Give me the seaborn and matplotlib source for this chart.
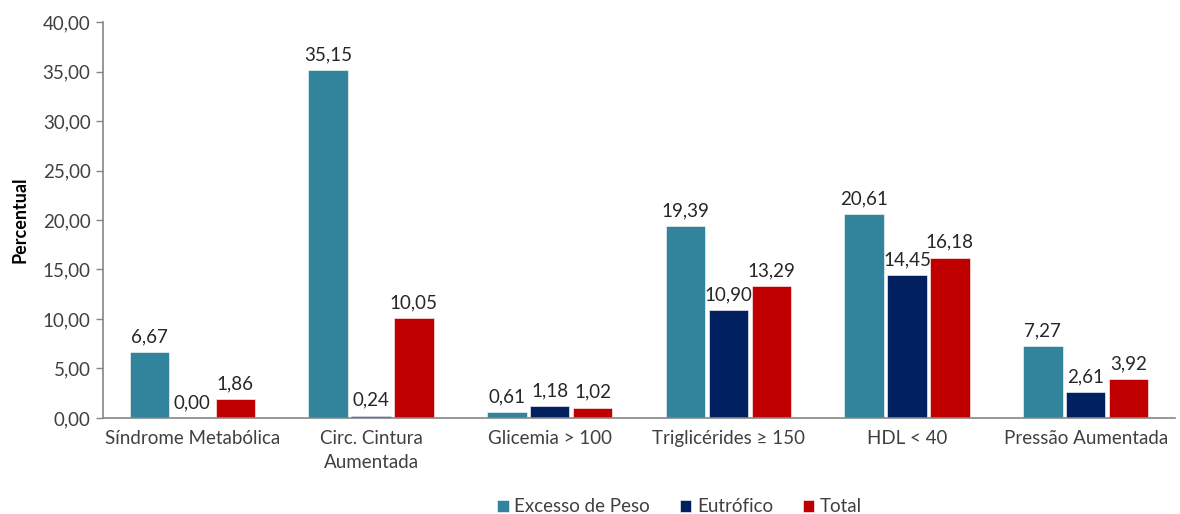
import pandas as pd
import numpy as np
import matplotlib.pyplot as plt
import seaborn as sns

categorias = ['Síndrome Metabólica', 'Circ. Cintura\nAumentada', 'Glicemia > 100',
              'Triglicérides ≥ 150', 'HDL < 40', 'Pressão Aumentada']
grupos = ['Excesso de Peso', 'Eutrófico', 'Total']
excesso_peso = [6.67, 35.15, 0.61, 19.39, 20.61, 7.27]
eutrofico = [0.00, 0.24, 1.18, 10.90, 14.45, 2.61]
total = [1.86, 10.05, 1.02, 13.29, 16.18, 3.92]
cores = ['#31849B', '#002060', '#C00000']
y_ticks = [0, 5, 10, 15, 20, 25, 30, 35, 40]

df = pd.DataFrame({
    'Categoria': categorias * 3,
    'Grupo': [g for g in grupos for _ in categorias],
    'Percentual': excesso_peso + eutrofico + total,
})

sns.set_style('white')
plt.rcParams['font.family'] = ['Lato', 'DejaVu Sans']
texto = '#404040'
fs = 13.5

fig = plt.figure(figsize=(11.8, 5.14), dpi=100)
ax = fig.add_axes([0.0873, 0.187, 0.9085, 0.770])

sns.barplot(data=df, x='Categoria', y='Percentual', hue='Grupo', order=categorias,
            hue_order=grupos, palette=cores, saturation=1, width=0.72, gap=0.08,
            edgecolor='white', linewidth=0.4, ax=ax, legend=True)

# rótulos de dados
for cont in ax.containers:
    ax.bar_label(cont, labels=[f'{v:.2f}'.replace('.', ',') for v in cont.datavalues],
                 padding=5, fontsize=fs, color='#262626')

ax.set_ylim(0, 40)
ax.set_xlim(-0.5, len(categorias) - 0.5)
ax.set_yticks(y_ticks)
ax.set_yticklabels([f'{v:.2f}'.replace('.', ',') for v in y_ticks], fontsize=fs, color=texto)
ax.set_xticks(range(len(categorias)))
ax.set_xticklabels(categorias, fontsize=fs, color=texto, linespacing=1.5)
ax.set_xticks(np.arange(-0.5, len(categorias)), minor=True)
ax.tick_params(axis='x', which='major', length=0, pad=9)
ax.tick_params(axis='x', which='minor', length=5, color='#868686', width=1)
ax.tick_params(axis='y', length=5, color='#868686', width=1, direction='out', left=True, pad=4)
ax.set_xlabel('')
ax.set_ylabel('Percentual', fontsize=13, fontweight='bold', color='black', labelpad=10)

sns.despine(ax=ax)
for s in ['left', 'bottom']:
    ax.spines[s].set_color('#868686')
    ax.spines[s].set_linewidth(1.2)

handles, labels = ax.get_legend_handles_labels()
ax.get_legend().remove()
fig.legend(handles, labels, loc='center', bbox_to_anchor=(0.576, 0.014), ncol=3,
           frameon=False, fontsize=fs, handlelength=0.6, handleheight=0.6,
           handletextpad=0.3, columnspacing=1.6, labelcolor=texto)

fig.savefig('out.png', dpi=100)
